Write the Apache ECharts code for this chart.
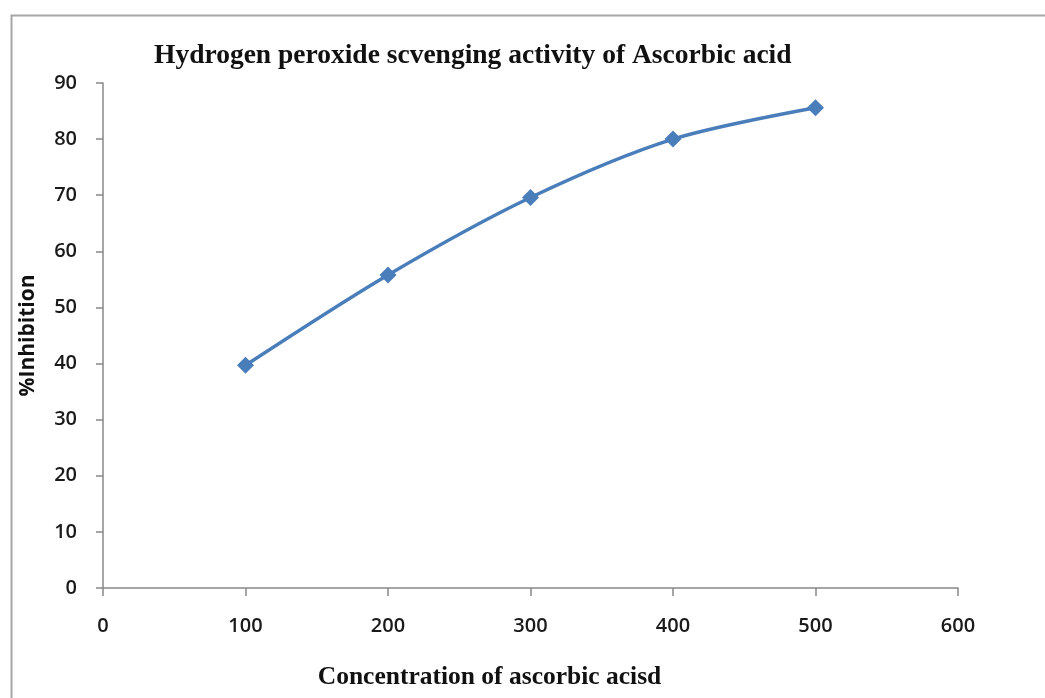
<!DOCTYPE html>
<html><head><meta charset="utf-8">
<script src="https://cdn.jsdelivr.net/npm/echarts@6/dist/echarts.min.js"></script>
<style>html,body{margin:0;padding:0;background:#fff}#c{width:1045px;height:698px}</style>
</head><body><div id="c"></div>
<script>
const concentrations = [100, 200, 300, 400, 500];
const inhibition = [39.7, 55.8, 69.6, 80.0, 85.6];
const xTicks = [0, 100, 200, 300, 400, 500, 600];
const yTicks = [0, 10, 20, 30, 40, 50, 60, 70, 80, 90];

const chart = echarts.init(document.getElementById('c'));
const axisCol = '#888888';
chart.setOption({
  backgroundColor: '#ffffff',
  animation: false,
  graphic: [{
    type: 'rect', left: 9, top: 13, shape: {width: 1060, height: 720},
    style: {fill: 'none', stroke: '#a6a6a6', lineWidth: 2}, silent: true
  }],
  title: {
    text: 'Hydrogen peroxide scvenging activity of Ascorbic acid',
    left: 149, top: 37,
    textStyle: {fontFamily: 'Liberation Serif', fontWeight: 'bold', fontSize: 27.5, color: '#111'}
  },
  grid: {left: 103, right: 87, top: 83, bottom: 110},
  xAxis: {
    type: 'value', min: xTicks[0], max: xTicks[xTicks.length - 1], interval: 100,
    name: 'Concentration of ascorbic acisd', nameLocation: 'middle', nameGap: 76,
    nameTextStyle: {fontFamily: 'Liberation Serif', fontWeight: 'bold', fontSize: 25.5, color: '#111', padding: [0, 82, 0, 0]},
    axisLine: {lineStyle: {color: axisCol, width: 1.5}},
    axisTick: {show: true, length: 8, lineStyle: {color: axisCol, width: 1.5}},
    axisLabel: {margin: 28, fontFamily: 'Open Sans', fontWeight: 600, fontSize: 20, color: '#1a1a1a'},
    splitLine: {show: false}
  },
  yAxis: {
    type: 'value', min: yTicks[0], max: yTicks[yTicks.length - 1], interval: 10,
    name: '%Inhibition', nameLocation: 'middle', nameGap: 64, nameRotate: 90,
    nameTextStyle: {fontFamily: 'Open Sans', fontWeight: 'bold', fontSize: 21, color: '#111'},
    axisLine: {show: true, lineStyle: {color: axisCol, width: 1.5}},
    axisTick: {show: true, length: 7, lineStyle: {color: axisCol, width: 1.5}},
    axisLabel: {margin: 26, fontFamily: 'Open Sans', fontWeight: 600, fontSize: 20, color: '#1a1a1a'},
    splitLine: {show: false}
  },
  series: [{
    type: 'line', smooth: 0.3,
    data: concentrations.map((c, i) => [c, inhibition[i]]),
    symbol: 'diamond', symbolSize: 17,
    lineStyle: {color: '#4a7ebb', width: 3.5},
    itemStyle: {color: '#4a7ebb'}
  }]
});
</script></body></html>
